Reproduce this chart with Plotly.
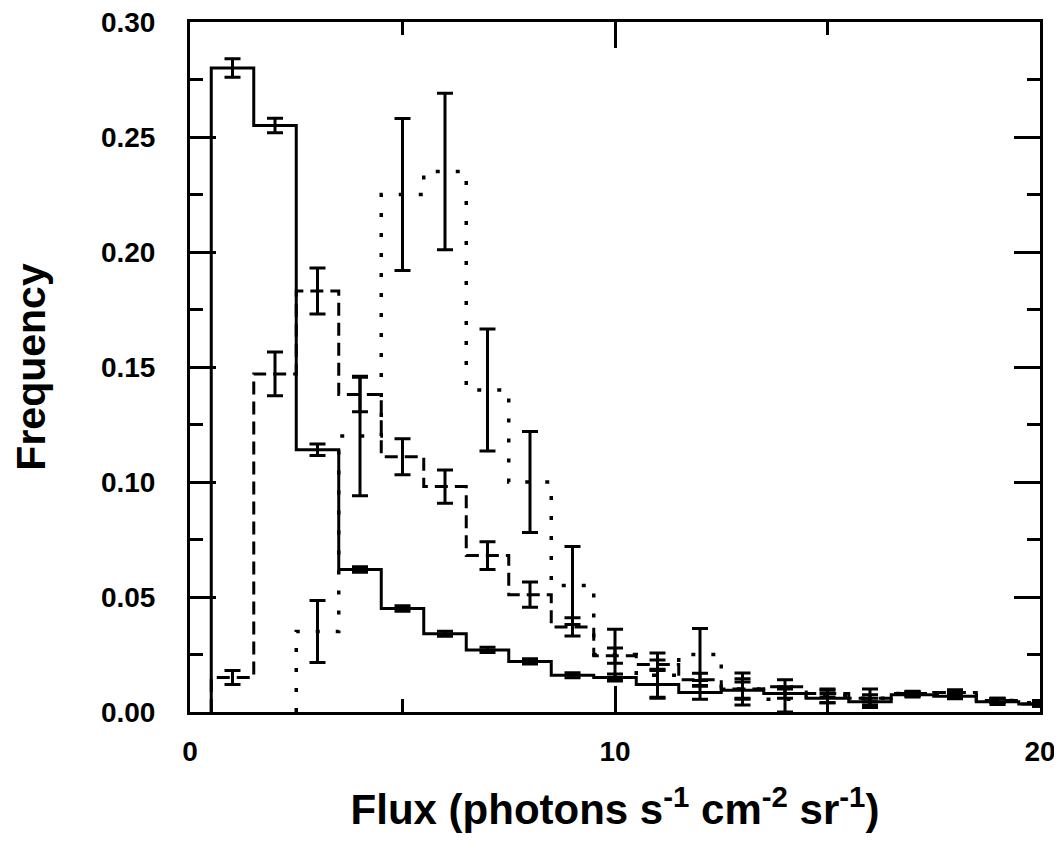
import plotly.graph_objects as go

# ---- data (bin centres, frequencies, errors) ----
centers = list(range(1, 21))

solid_vals = [0.280, 0.255, 0.114, 0.062, 0.045, 0.034, 0.027, 0.022, 0.016, 0.015,
              0.012, 0.0085, 0.0095, 0.008, 0.006, 0.0045, 0.0075, 0.0068, 0.0045, 0.0035]
solid_err = [0.004, 0.0032, 0.0025, 0.0012, 0.0012, 0.0011, 0.0011, 0.0011, 0.0011, 0.0015,
             0.006, 0.003, 0.0035, 0.002, 0.002, 0.0015, 0.001, 0.001, 0.0012, 0.001]

dashed_vals = [0.015, 0.147, 0.183, 0.138, 0.111, 0.098, 0.068, 0.051, 0.037, 0.0245,
               0.0206, 0.014, 0.010, 0.011, 0.008, 0.006, 0.008, 0.0085, 0.005, 0.0035]
dashed_err = [0.003, 0.0095, 0.010, 0.0075, 0.0078, 0.0072, 0.006, 0.0055, 0.004, 0.0033,
              0.002, 0.0028, 0.0045, 0.003, 0.0015, 0.0015, 0.001, 0.0012, 0.001, 0.001]

dotted_vals = [0.0, 0.0, 0.035, 0.120, 0.225, 0.235, 0.140, 0.100, 0.055, 0.025,
               0.016, 0.025, 0.010, 0.0055, 0.007, 0.006, 0.008, 0.0075, 0.005, 0.004]
dotted_err = [None, None, 0.0135, 0.026, 0.033, 0.034, 0.0265, 0.022, 0.017, 0.011,
              0.0096, 0.0113, 0.007, 0.0055, 0.003, 0.004, 0.0008, 0.001, 0.001, 0.001]

x_ticks = [0, 10, 20]
y_ticks = [0.00, 0.05, 0.10, 0.15, 0.20, 0.25, 0.30]


def step_xy(cs, vs):
    """Build a histogram outline from bin centres / heights (bin width 1)."""
    start = next(i for i, v in enumerate(vs) if v > 0)
    xs, ys = [cs[start] - 0.5], [0.0]
    for c, v in zip(cs[start:], vs[start:]):
        xs += [c - 0.5, c + 0.5]
        ys += [v, v]
    return xs, ys


fig = go.Figure()
styles = [
    (solid_vals, solid_err, "solid", 3),
    (dashed_vals, dashed_err, "13px,7px", 3),
    (dotted_vals, dotted_err, "4px,16px", 3.5),
]
for vals, errs, dash, lw in styles:
    sx, sy = step_xy(centers, vals)
    fig.add_trace(go.Scatter(x=sx, y=sy, mode="lines",
                             line=dict(color="black", width=lw, dash=dash),
                             showlegend=False, hoverinfo="skip"))
    ex = [c for c, e in zip(centers, errs) if e is not None]
    ey = [v for v, e in zip(vals, errs) if e is not None]
    ee = [e for e in errs if e is not None]
    fig.add_trace(go.Scatter(x=ex, y=ey, mode="markers",
                             marker=dict(color="rgba(0,0,0,0)", size=1),
                             error_y=dict(type="data", array=ee, visible=True,
                                          color="black", thickness=3, width=8),
                             showlegend=False))

font_family = "Liberation Sans, Arial, sans-serif"
# page body has an 8px margin: size the figure so it fits the 1062x857 window
fig.update_layout(
    width=1054, height=841,
    margin=dict(l=182, r=22, t=14, b=137),
    paper_bgcolor="white", plot_bgcolor="white",
    font=dict(family=font_family, color="black"),
)
fig.update_xaxes(
    range=[0, 20], tickvals=x_ticks, ticktext=[str(v) for v in x_ticks],
    ticks="inside", ticklen=26, tickwidth=3, tickcolor="black",
    minor=dict(tickvals=[5, 15], ticklen=13, tickwidth=3, tickcolor="black", ticks="inside"),
    showline=True, linewidth=3, linecolor="black", mirror="allticks",
    showgrid=False, zeroline=False, automargin=False, ticklabeloverflow="allow",
    tickfont=dict(size=28, family=font_family, weight="bold"),
    ticklabelstandoff=12,
    title=dict(text="Flux (photons s<sup>-1</sup> cm<sup>-2</sup> sr<sup>-1</sup>)",
               font=dict(size=42, family=font_family, weight="bold"), standoff=30),
)
fig.update_yaxes(
    range=[0, 0.30], tickvals=y_ticks, ticktext=[f"{v:.2f}" for v in y_ticks],
    ticks="inside", ticklen=26, tickwidth=3, tickcolor="black",
    minor=dict(tickvals=[0.025, 0.075, 0.125, 0.175, 0.225, 0.275],
               ticklen=13, tickwidth=3, tickcolor="black", ticks="inside"),
    showline=True, linewidth=3, linecolor="black", mirror="allticks",
    showgrid=False, zeroline=False, automargin=False, ticklabeloverflow="allow",
    tickfont=dict(size=28, family=font_family, weight="bold"),
    ticklabelstandoff=26,
    title=dict(text="Frequency", font=dict(size=41, family=font_family, weight="bold"),
               standoff=48),
)

fig.write_html("out.html")
